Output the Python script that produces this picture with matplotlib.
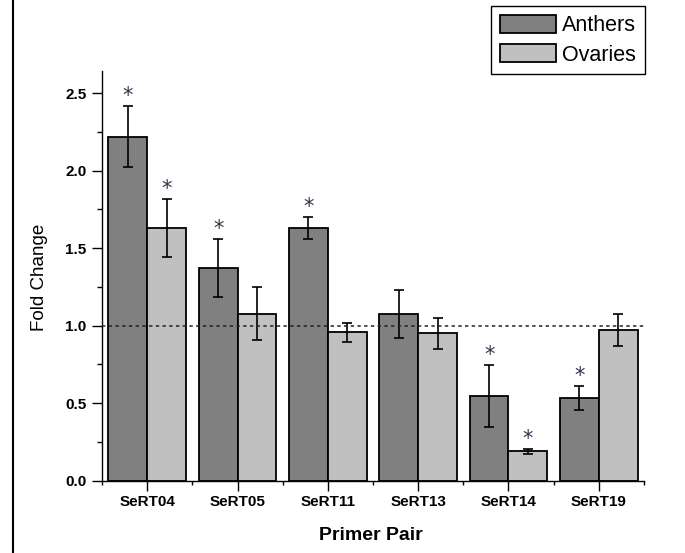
import matplotlib
matplotlib.use("Agg")
import matplotlib.pyplot as plt
import numpy as np
from matplotlib.lines import Line2D
from matplotlib.patches import Patch

# data
primers = ["SeRT04", "SeRT05", "SeRT11", "SeRT13", "SeRT14", "SeRT19"]
anthers = [2.22, 1.37, 1.63, 1.075, 0.545, 0.535]
anthers_err = [0.195, 0.186, 0.07, 0.153, 0.2, 0.078]
anthers_sig = [True, True, True, False, True, True]
ovaries = [1.63, 1.078, 0.957, 0.951, 0.19, 0.973]
ovaries_err = [0.187, 0.17, 0.063, 0.10, 0.016, 0.103]
ovaries_sig = [True, False, False, False, True, False]
legend_labels = ["Anthers", "Ovaries"]

plt.rcParams["font.family"] = ["Liberation Sans", "DejaVu Sans"]

fig = plt.figure(figsize=(6.85, 5.53), dpi=100)
ax = fig.add_axes([102 / 685, 1 - 480.7 / 553, 542 / 685, 409.3 / 553])

x = np.arange(1, len(primers) + 1)
w = 0.43
c_anth = "#808080"
c_ova = "#c0c0c0"

ax.bar(x - w / 2, anthers, w, color=c_anth, edgecolor="black", linewidth=1.3, zorder=2)
ax.bar(x + w / 2, ovaries, w, color=c_ova, edgecolor="black", linewidth=1.3, zorder=2)
ax.errorbar(x - w / 2, anthers, yerr=anthers_err, fmt="none", ecolor="black",
            elinewidth=1.2, capsize=3.5, capthick=1.2, zorder=3)
ax.errorbar(x + w / 2, ovaries, yerr=ovaries_err, fmt="none", ecolor="black",
            elinewidth=1.2, capsize=3.5, capthick=1.2, zorder=3)

# significance stars above the error bars
for xs, vals, errs, sig in [(x - w / 2, anthers, anthers_err, anthers_sig),
                            (x + w / 2, ovaries, ovaries_err, ovaries_sig)]:
    for xi, v, e, s in zip(xs, vals, errs, sig):
        if s:
            ax.annotate("*", (xi, v + e), xytext=(0, 0), textcoords="offset points",
                        ha="center", va="bottom", fontsize=15, color="#33334a",
                        family="DejaVu Sans")

ax.axhline(1.0, color="#222222", linewidth=1.1, linestyle=(0, (2.2, 2.2)), zorder=4)

ax.set_xlim(0.5, 6.5)
ax.set_ylim(0, 2.64)
ax.set_xticks(x)
ax.set_xticklabels(primers, fontsize=11, fontweight="bold")
ax.set_xticks(np.arange(0.5, 6.6, 1), minor=True)
ax.set_yticks([0, 0.5, 1.0, 1.5, 2.0, 2.5])
ax.set_yticklabels(["0.0", "0.5", "1.0", "1.5", "2.0", "2.5"], fontsize=11, fontweight="bold")
ax.set_yticks(np.arange(0.25, 2.6, 0.5), minor=True)
ax.tick_params(axis="x", which="major", direction="out", length=7, width=1, pad=3)
ax.tick_params(axis="x", which="minor", direction="out", length=3, width=1)
ax.tick_params(axis="y", which="major", direction="out", length=7, width=1, pad=4)
ax.tick_params(axis="y", which="minor", direction="out", length=3.5, width=1)

for side in ["top", "right"]:
    ax.spines[side].set_visible(False)
for side in ["left", "bottom"]:
    ax.spines[side].set_linewidth(1)

fig.text(40 / 685, 1 - 277 / 553, "Fold Change", rotation=90, ha="center",
         va="center", fontsize=13.5)
fig.text(371 / 685, 1 - 535 / 553, "Primer Pair", ha="center", va="center",
         fontsize=14, fontweight="bold")

handles = [Patch(facecolor=c_anth, edgecolor="black", linewidth=1.3),
           Patch(facecolor=c_ova, edgecolor="black", linewidth=1.3)]
leg = fig.legend(handles, legend_labels, loc="upper right",
                 bbox_to_anchor=(645 / 685, 1 - 6 / 553), fontsize=15.5,
                 fancybox=False, framealpha=1, edgecolor="black",
                 handlelength=2.6, handleheight=0.95, handletextpad=0.3,
                 labelspacing=0.35, borderpad=0.4, borderaxespad=0)
leg.get_frame().set_linewidth(1)

# left border line of the picture
fig.add_artist(Line2D([13 / 685, 13 / 685], [0, 1], color="black", linewidth=1.5,
                      transform=fig.transFigure))

fig.savefig("out.png", dpi=100)
